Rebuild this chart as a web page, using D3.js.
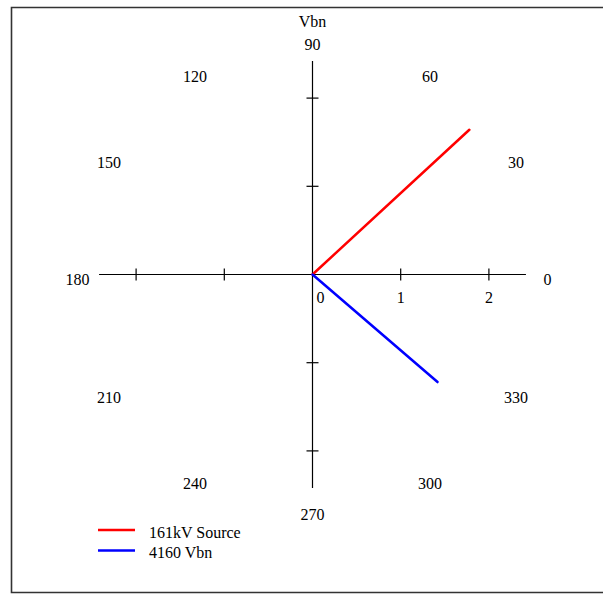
<!DOCTYPE html>
<html>
<head>
<meta charset="utf-8">
<script src="https://cdn.jsdelivr.net/npm/d3@7"></script>
<style>
  html, body { margin: 0; padding: 0; background: #fff; }
  svg { display: block; }
  text { font-family: "Liberation Serif", "Times New Roman", serif; font-size: 16px; fill: #000; }
</style>
</head>
<body>
<script>
// Phasor plot of the voltage vectors
const title = "Vbn";
const seriesNames = ["161kV Source", "4160 Vbn"];
const seriesMagnitudes = [2.42, 1.87];
const seriesAnglesDeg = [42.7, -40.7];
const seriesColors = ["#ff0000", "#0000ff"];
const angleLabels = [0, 30, 60, 90, 120, 150, 180, 210, 240, 270, 300, 330];
const radialTicks = [1, 2];
const radialTickLabels = ["0", "1", "2"];
const radialMax = 2.42;

const W = 603, H = 594;
const cx = 312.5, cy = 274.5;

const svg = d3.select("body").append("svg")
  .attr("width", W).attr("height", H);

// frame
svg.append("path")
  .attr("d", `M${W + 2},7.5 H11.5 V592.5 H${W + 2}`)
  .attr("fill", "none").attr("stroke", "#333").attr("stroke-width", 1.6);

const r = d3.scaleLinear().domain([0, 1]).range([0, 88.2]);
const R = r(radialMax);

const g = svg.append("g").attr("transform", `translate(${cx},${cy})`);

// crossed axes
g.append("line").attr("x1", -R).attr("x2", R).attr("y1", 0).attr("y2", 0)
  .attr("stroke", "#000").attr("stroke-width", 1.2);
g.append("line").attr("x1", 0).attr("x2", 0).attr("y1", -R).attr("y2", R)
  .attr("stroke", "#000").attr("stroke-width", 1.2);

// tick marks on all four half-axes
const tl = 6;
radialTicks.forEach(t => {
  [1, -1].forEach(s => {
    g.append("line").attr("x1", s * r(t)).attr("x2", s * r(t)).attr("y1", -tl).attr("y2", tl)
      .attr("stroke", "#000").attr("stroke-width", 1.2);
    g.append("line").attr("y1", s * r(t)).attr("y2", s * r(t)).attr("x1", -tl).attr("x2", tl)
      .attr("stroke", "#000").attr("stroke-width", 1.2);
  });
});

// radial tick labels along the 0° axis
radialTickLabels.forEach((lab, i) => {
  g.append("text")
    .attr("x", r(i) + (i === 0 ? 8 : 0))
    .attr("y", 23)
    .attr("dy", "0.35em")
    .attr("text-anchor", "middle")
    .text(lab);
});

// angle labels around the plot
const labelR = 235;
angleLabels.forEach(a => {
  const th = a * Math.PI / 180;
  g.append("text")
    .attr("x", labelR * Math.cos(th))
    .attr("y", -labelR * Math.sin(th) + 5)
    .attr("dy", "0.35em")
    .attr("text-anchor", "middle")
    .text(a);
});

// title
svg.append("text").attr("x", cx).attr("y", 21).attr("dy", "0.35em")
  .attr("text-anchor", "middle").text(title);

// phasors
seriesNames.forEach((name, i) => {
  const th = seriesAnglesDeg[i] * Math.PI / 180;
  const m = r(seriesMagnitudes[i]);
  g.append("line")
    .attr("x1", 0).attr("y1", 0)
    .attr("x2", m * Math.cos(th)).attr("y2", -m * Math.sin(th))
    .attr("stroke", seriesColors[i]).attr("stroke-width", 2.5)
    .attr("stroke-linecap", "round");
});

// legend
const legend = svg.append("g").attr("transform", "translate(98,530)");
seriesNames.forEach((name, i) => {
  const y = i * 20.5;
  legend.append("line").attr("x1", 0).attr("x2", 37).attr("y1", y).attr("y2", y)
    .attr("stroke", seriesColors[i]).attr("stroke-width", 2.5);
  legend.append("text").attr("x", 51).attr("y", y + 2).attr("dy", "0.35em").text(name);
});
</script>
</body>
</html>
